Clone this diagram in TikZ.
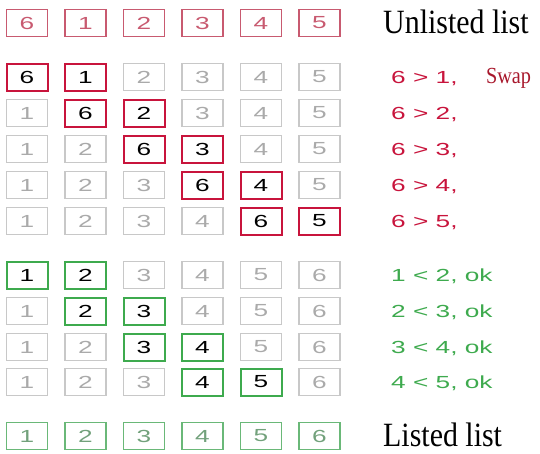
\documentclass[tikz,border=0pt]{standalone}
\usepackage{fontspec}
\setmainfont{Liberation Serif}
\newfontfamily\bswide[FakeStretch=1.5]{Liberation Sans}
\newfontfamily\bstall[FakeStretch=0.88]{Liberation Serif}
\usetikzlibrary{positioning}
\definecolor{bsRed}{HTML}{C8143C}
\definecolor{bsPink}{HTML}{C85A70}
\definecolor{bsSwap}{HTML}{A8182C}
\definecolor{bsGreen}{HTML}{3EAA4E}
\definecolor{bsMint}{HTML}{6AB878}
\definecolor{bsGrey}{HTML}{C8C8C8}
\tikzset{
  bsnode/.style={
    draw, minimum width=41pt, minimum height=27pt, inner sep=0pt,
    font=\bswide\fontsize{17.5}{17.5}\selectfont
  },
  startbox/.style={bsnode, draw=bsPink, line width=1.4pt, text=bsPink},
  redbox/.style={bsnode, draw=bsRed, line width=2pt, text=black},
  greenbox/.style={bsnode, draw=bsGreen, line width=2pt, text=black},
  greybox/.style={bsnode, draw=bsGrey, line width=1.4pt, text=bsGrey!85!black},
  endbox/.style={bsnode, draw=bsMint, line width=1.4pt, text=bsMint!60!gray},
  cmp/.style={anchor=base west, inner sep=0pt, font=\bswide\fontsize{17.5}{17.5}\selectfont},
  redcmp/.style={cmp, text=bsRed},
  greencmp/.style={cmp, text=bsGreen},
  listtitle/.style={anchor=base west, inner sep=0pt, font=\bstall\fontsize{34}{34}\selectfont},
  swaptag/.style={inner sep=0pt, text=bsSwap, font=\bstall\fontsize{23}{23}\selectfont}
}

\begin{document}
\begin{tikzpicture}[x=1pt, y=-1pt]
  \useasboundingbox (0,0) rectangle (540,453);
  % unsorted input
  \foreach \v [count=\i] in {6,1,2,3,4,5}
    \node[startbox] (in\i) at ({27+58.5*(\i-1)},23) {\v};
  \node[listtitle] (intitle) at (383,33) {Unlisted list};
  % 6 bubbles to the end
  \foreach \st/\v [count=\i] in {redbox/6,redbox/1,greybox/2,greybox/3,greybox/4,greybox/5}
    \node[\st] (a\i) at ({27+58.5*(\i-1)},77) {\v};
  \foreach \st/\v [count=\i] in {greybox/1,redbox/6,redbox/2,greybox/3,greybox/4,greybox/5}
    \node[\st] (b\i) at ({27+58.5*(\i-1)},113) {\v};
  \foreach \st/\v [count=\i] in {greybox/1,greybox/2,redbox/6,redbox/3,greybox/4,greybox/5}
    \node[\st] (c\i) at ({27+58.5*(\i-1)},149) {\v};
  \foreach \st/\v [count=\i] in {greybox/1,greybox/2,greybox/3,redbox/6,redbox/4,greybox/5}
    \node[\st] (d\i) at ({27+58.5*(\i-1)},185) {\v};
  \foreach \st/\v [count=\i] in {greybox/1,greybox/2,greybox/3,greybox/4,redbox/6,redbox/5}
    \node[\st] (e\i) at ({27+58.5*(\i-1)},221) {\v};
  \node[redcmp] (ta) at (391,83) {6 > 1,};
  \node[swaptag, base right=28pt of ta] (swap) {Swap};
  \node[redcmp] (tb) at (391,119) {6 > 2,};
  \node[redcmp] (tc) at (391,155) {6 > 3,};
  \node[redcmp] (td) at (391,191) {6 > 4,};
  \node[redcmp] (te) at (391,227) {6 > 5,};
  % second pass, nothing moves
  \foreach \st/\v [count=\i] in {greenbox/1,greenbox/2,greybox/3,greybox/4,greybox/5,greybox/6}
    \node[\st] (f\i) at ({27+58.5*(\i-1)},275) {\v};
  \foreach \st/\v [count=\i] in {greybox/1,greenbox/2,greenbox/3,greybox/4,greybox/5,greybox/6}
    \node[\st] (g\i) at ({27+58.5*(\i-1)},311) {\v};
  \foreach \st/\v [count=\i] in {greybox/1,greybox/2,greenbox/3,greenbox/4,greybox/5,greybox/6}
    \node[\st] (h\i) at ({27+58.5*(\i-1)},347) {\v};
  \foreach \st/\v [count=\i] in {greybox/1,greybox/2,greybox/3,greenbox/4,greenbox/5,greybox/6}
    \node[\st] (k\i) at ({27+58.5*(\i-1)},382) {\v};
  \node[greencmp] (tf) at (391,281) {1 < 2, ok};
  \node[greencmp] (tg) at (391,317) {2 < 3, ok};
  \node[greencmp] (th) at (391,353) {3 < 4, ok};
  \node[greencmp] (tk) at (391,388) {4 < 5, ok};
  % sorted output
  \foreach \v [count=\i] in {1,2,3,4,5,6}
    \node[endbox] (out\i) at ({27+58.5*(\i-1)},436) {\v};
  \node[listtitle] (outtitle) at (383,446) {Listed list};
\end{tikzpicture}
\end{document}
